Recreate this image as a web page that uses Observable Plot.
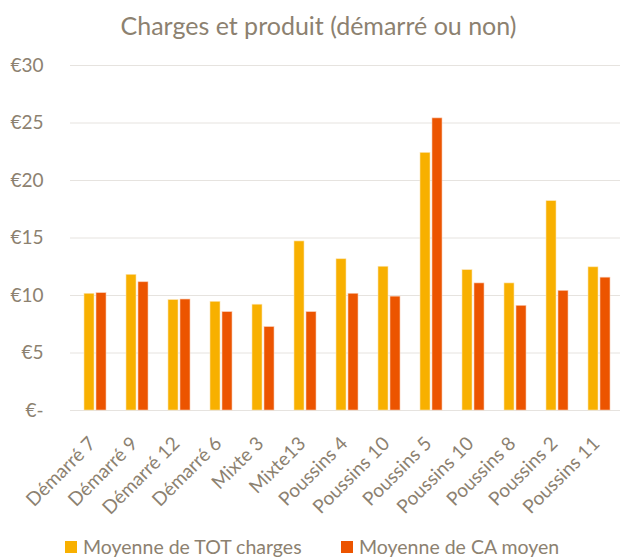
<!DOCTYPE html>
<html>
<head>
<meta charset="utf-8">
<script src="https://cdn.jsdelivr.net/npm/d3@7"></script>
<script src="https://cdn.jsdelivr.net/npm/@observablehq/plot@0.6"></script>
<style>
  html, body { margin: 0; padding: 0; background: #fff; }
  body { width: 620px; height: 557px; overflow: hidden; font-family: Lato, "Open Sans", sans-serif; color: #8C8170; position: relative; }
  #title { height: 50px; text-align: center; font-size: 25px; line-height: 50px; padding-left: 17px; box-sizing: border-box; white-space: nowrap; }
  .item { display: flex; align-items: center; position: absolute; font-size: 19.5px; line-height: 20px; }
  .sw { width: 12px; height: 12px; display: inline-block; margin-right: 6px; }
</style>
</head>
<body>
<div id="title">Charges et produit (démarré ou non)</div>
<div id="chart"></div>
<div id="legend"></div>
<script>
const categories = ["Démarré 7","Démarré 9","Démarré 12","Démarré 6","Mixte 3","Mixte13","Poussins 4","Poussins 10","Poussins 5","Poussins 10","Poussins 8","Poussins 2","Poussins 11"];
const totCharges = [10.15, 11.8, 9.6, 9.45, 9.2, 14.7, 13.15, 12.5, 22.4, 12.2, 11.05, 18.2, 12.45];
const caMoyen   = [10.2, 11.15, 9.65, 8.55, 7.25, 8.55, 10.15, 9.9, 25.4, 11.05, 9.1, 10.4, 11.55];
const seriesNames = ["Moyenne de TOT charges", "Moyenne de CA moyen"];
const seriesColors = ["#F8B000", "#EC5400"];
const yTicks = [0, 5, 10, 15, 20, 25, 30];

const idx = categories.map((_, i) => i);
const dataA = idx.map(i => ({i, v: totCharges[i]}));
const dataB = idx.map(i => ({i, v: caMoyen[i]}));
const textColor = "#8C8170";

const plot = Plot.plot({
  width: 620,
  height: 470,
  marginLeft: 70,
  marginRight: 0,
  marginTop: 15,
  marginBottom: 110,
  style: { fontFamily: "Lato, 'Open Sans', sans-serif", color: textColor, background: "#fff", overflow: "visible" },
  x: { domain: idx, paddingInner: 0.48, paddingOuter: 0, insetLeft: 10, insetRight: 7, label: null },
  y: { domain: [0, 30], label: null },
  marks: [
    Plot.ruleY(yTicks, { stroke: "#E6E3DF", strokeWidth: 1 }),
    Plot.barY(dataA, { x: "i", y: "v", fill: seriesColors[0], insetRight: 12, stroke: "#FCE3B0", strokeWidth: 0.6 }),
    Plot.barY(dataB, { x: "i", y: "v", fill: seriesColors[1], insetLeft: 12, stroke: "#F8C9AE", strokeWidth: 0.6 }),
    Plot.axisY({ ticks: yTicks, tickSize: 0, tickPadding: 27, fontSize: 19, fill: textColor,
      tickFormat: d => d === 0 ? "€-" : "€" + d }),
    Plot.axisX({ tickSize: 0, tickPadding: 30, dx: -3, tickRotate: -45, fontSize: 19, fill: textColor,
      tickFormat: i => categories[i] })
  ]
});
document.getElementById("chart").appendChild(plot);

const legend = document.getElementById("legend");
const positions = [65, 341];
seriesNames.forEach((name, k) => {
  const it = document.createElement("div");
  it.className = "item";
  it.style.left = positions[k] + "px";
  it.style.top = "537px";
  const sw = document.createElement("span");
  sw.className = "sw";
  sw.style.background = seriesColors[k];
  it.appendChild(sw);
  const t = document.createElement("span");
  t.textContent = name;
  it.appendChild(t);
  legend.appendChild(it);
});
</script>
</body>
</html>
